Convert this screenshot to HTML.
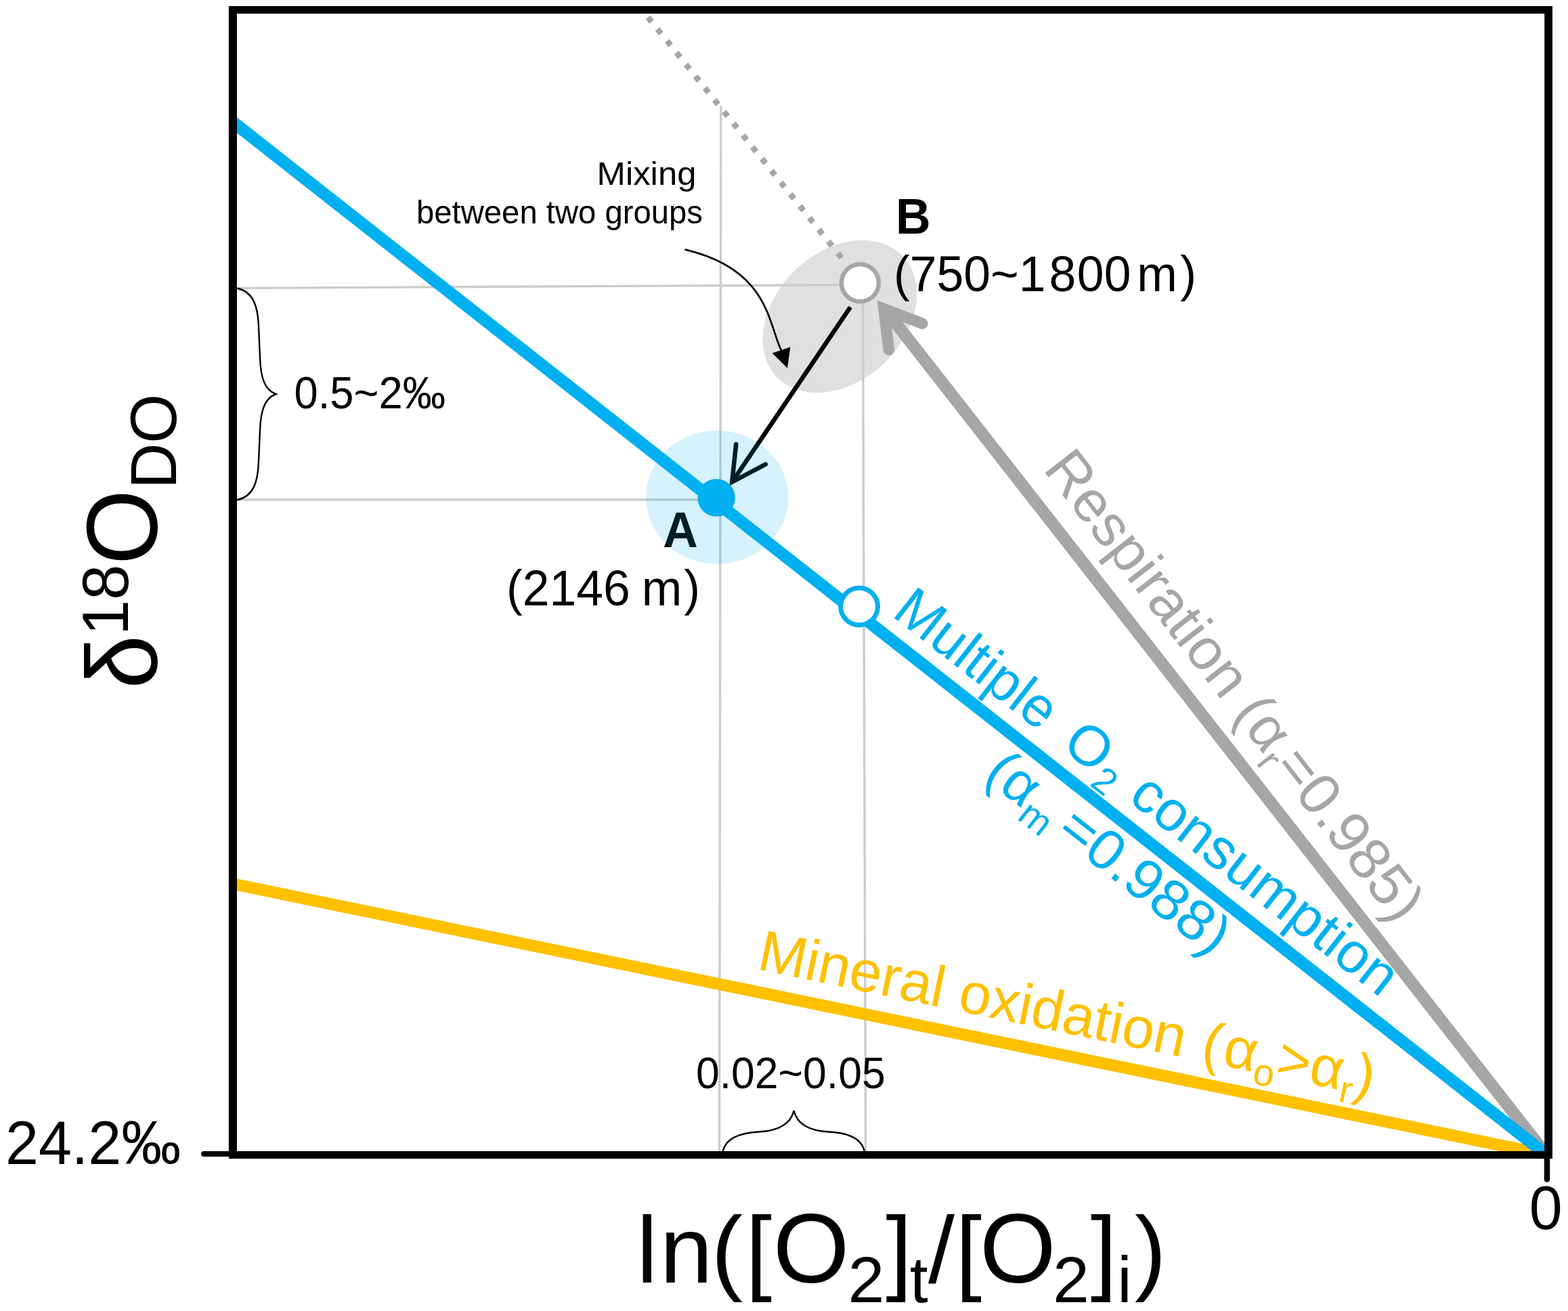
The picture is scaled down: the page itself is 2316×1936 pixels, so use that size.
<!DOCTYPE html>
<html lang="en">
<head>
<meta charset="utf-8">
<title>δ18O DO versus ln([O2]t/[O2]i)</title>
<style>
html,body{margin:0;padding:0;background:#fff;}
body{width:2316px;height:1936px;overflow:hidden;}
svg{display:block;}
text{font-family:"Liberation Sans", sans-serif;}
</style>
</head>
<body>
<svg width="2316" height="1936" viewBox="0 0 2316 1936">
<rect x="0" y="0" width="2316" height="1936" fill="#ffffff"/>
<defs><clipPath id="plot"><rect x="346" y="17" width="1939" height="1688"/></clipPath></defs>
<ellipse cx="1240.4" cy="467.4" rx="129" ry="95" transform="rotate(-44 1240.4 467.4)" fill="#e0e0e0"/>
<g stroke="#cdcccc" stroke-width="3.4" fill="none">
<line x1="350" y1="425.5" x2="1245" y2="420.7"/>
<line x1="350" y1="738" x2="1050" y2="738"/>
<line x1="1064.8" y1="156" x2="1062.6" y2="1700"/>
<line x1="1274.5" y1="445" x2="1278.6" y2="1700"/>
</g>
<line x1="957.1" y1="25.5" x2="1250" y2="389.4" stroke="#a6a6a6" stroke-width="8.6" stroke-dasharray="8.6 13.76" fill="none"/>
<line x1="344.0" y1="1305.2" x2="2285" y2="1705.4" stroke="#ffc000" stroke-width="17.6" clip-path="url(#plot)"/>
<g stroke="#a6a6a6" stroke-width="18" fill="none" stroke-linecap="round" stroke-linejoin="miter" stroke-miterlimit="10">
<line x1="2283.8" y1="1705.0" x2="1310.4" y2="461.0" stroke-linecap="butt" clip-path="url(#plot)"/>
<polyline points="1362.4,477.8 1305.4,456.0 1312.9,516.5" stroke-width="16.5"/>
</g>
<line x1="344.0" y1="180.2" x2="2285" y2="1706" stroke="#00b0f0" stroke-width="18" clip-path="url(#plot)"/>
<g fill="#000000">
<text x="1028.5" y="273.3" font-size="49" text-anchor="end" textLength="147" lengthAdjust="spacingAndGlyphs">Mixing</text>
<text x="1038" y="329.8" font-size="49" text-anchor="end" textLength="423" lengthAdjust="spacingAndGlyphs">between two groups</text>
<text transform="translate(1323 344.5) scale(1 1.04)" font-size="71.5" font-weight="bold">B</text>
<text transform="translate(1320 430.2) scale(1 1.04)" font-size="71.5">(750~1<tspan dx="5">8</tspan><tspan dx="1.5">0</tspan>0<tspan dx="-11"> </tspan>m<tspan dx="4.5">)</tspan></text>
<text transform="translate(1031 807.9) scale(1 1.04)" font-size="71.5" font-weight="bold" text-anchor="end">A</text>
<text transform="translate(748 893.6) scale(1 1.04)" font-size="71.5">(2146<tspan dx="-3"> </tspan>m<tspan dx="3">)</tspan></text>
<text transform="translate(434.5 603) scale(1 1.04)" font-size="63.3">0.5~2‰</text>
<text transform="translate(1028 1607.1) scale(1 1.04)" font-size="62.5">0.02~0.05</text>
<text transform="translate(8 1718.7) scale(1 1.04)" font-size="88">24.2‰</text>
<text transform="translate(2283.2 1815) scale(1 1.04)" font-size="88" text-anchor="middle">0</text>
<g font-size="145">
<text transform="rotate(-90) scale(1 1.035)"><tspan x="-1017.3" y="224.6" font-size="143">δ</tspan><tspan x="-938.3" y="182.6" font-size="94">1</tspan><tspan x="-886.0" y="182.6" font-size="94">8</tspan><tspan x="-834.0" y="224.6" font-size="143">O</tspan><tspan x="-722.1" y="251.4" font-size="94">D</tspan><tspan x="-654.7" y="251.4" font-size="94">O</tspan></text>
</g>
<text font-size="140"><tspan x="940.2" y="1893.8" font-size="140">l</tspan><tspan x="974.8" y="1893.8" font-size="140">n</tspan><tspan x="1050.4" y="1893.8" font-size="140">(</tspan><tspan x="1101.3" y="1893.8" font-size="140">[</tspan><tspan x="1141.8" y="1893.8" font-size="145">O</tspan><tspan x="1252.5" y="1922.8" font-size="97">2</tspan><tspan x="1308.2" y="1893.8" font-size="140">]</tspan><tspan x="1343.7" y="1922.8" font-size="97">t</tspan><tspan x="1371.0" y="1893.8" font-size="140">/</tspan><tspan x="1411.3" y="1893.8" font-size="140">[</tspan><tspan x="1447.0" y="1893.8" font-size="145">O</tspan><tspan x="1554.9" y="1922.8" font-size="97">2</tspan><tspan x="1610.7" y="1893.8" font-size="140">]</tspan><tspan x="1650.2" y="1922.8" font-size="97">i</tspan><tspan x="1675.9" y="1893.8" font-size="140">)</tspan></text>
</g>
<g stroke="#000000" stroke-width="6.6" fill="none" stroke-linecap="round" stroke-linejoin="miter">
<line x1="1256.0" y1="453.5" x2="1081.3" y2="711.8" stroke-linecap="butt"/>
<polyline points="1087.2,656.1 1081.3,711.8 1130.8,685.6"/>
</g>
<path d="M1012.6,368.8 C1135.4,397.8 1135,478.3 1153.6,516.5" stroke="#000" stroke-width="2.7" fill="none" stroke-linecap="round"/>
<polygon points="1140.7,521.5 1167.4,512.6 1163,543.7" fill="#000"/>
<g stroke="#000" stroke-width="2.4" fill="none" stroke-linecap="round">
<path d="M351,426 C374,431 381,452 382,482 L384,528 C385,558 391,576 407.5,582 C391,588 385,606 384,636 L382,682 C381,712 374,733 351,738"/>
<path d="M1068,1699 C1073,1680 1094,1673 1120,1671.5 C1150,1670 1168,1660 1172.6,1640 C1177,1660 1195,1670 1225,1671.5 C1251,1673 1272,1680 1276.5,1699"/>
</g>
<ellipse cx="1059.3" cy="734.3" rx="105" ry="98.5" fill="#00b0f0" fill-opacity="0.165"/>
<circle cx="1058.1" cy="735.0" r="27.8" fill="#00b0f0"/>
<circle cx="1269.1" cy="895.6" r="27.4" fill="#ffffff" stroke="#00b0f0" stroke-width="7"/>
<circle cx="1270.4" cy="417.8" r="27.5" fill="#ffffff" stroke="#a6a6a6" stroke-width="6.4"/>
<text transform="translate(1539.5 692.8) rotate(52.2)" font-size="85.8" fill="#a6a6a6">Respiration (α<tspan font-size="56.5" dy="17.5">r</tspan><tspan dy="-17.5" textLength="298" lengthAdjust="spacingAndGlyphs">=0.985)</tspan></text>
<text transform="translate(1317.7 910.2) rotate(38)" font-size="83.5" fill="#00b0f0"><tspan x="-2.5" textLength="279.6" lengthAdjust="spacingAndGlyphs">Multiple</tspan> <tspan x="315.2">O</tspan><tspan x="381.8" font-size="55" dy="17">2</tspan><tspan dy="-17"> </tspan><tspan x="440.2" textLength="475.4" lengthAdjust="spacingAndGlyphs">consumption</tspan></text>
<text transform="translate(1451.2 1148.5) rotate(38)" font-size="83.5" fill="#00b0f0">(α<tspan font-size="55" dy="17">m</tspan><tspan dy="-17"> </tspan><tspan dx="-10" textLength="295.5" lengthAdjust="spacingAndGlyphs">=0.988)</tspan></text>
<text transform="translate(1116.5 1430.8) rotate(11.7)" font-size="85" fill="#ffc000">Mineral oxidation <tspan dx="3">(</tspan><tspan dx="4">α</tspan><tspan font-size="56" dy="17">o</tspan><tspan dy="-17">&gt;α</tspan><tspan font-size="56" dy="17">r</tspan><tspan dy="-17">)</tspan></text>
<rect x="343.9" y="14.6" width="1943.3" height="1690.9" fill="none" stroke="#000" stroke-width="11.2"/>
<line x1="301" y1="1704" x2="344" y2="1704" stroke="#000" stroke-width="7.8" stroke-linecap="round"/>
<line x1="343.9" y1="9" x2="343.9" y2="1711.1" stroke="#000" stroke-width="12"/>
<line x1="2287.2" y1="9" x2="2287.2" y2="1711.1" stroke="#000" stroke-width="11.6"/>
<line x1="2285" y1="1706" x2="2285" y2="1741.5" stroke="#000" stroke-width="8.5" stroke-linecap="round"/>
</svg>
</body>
</html>
